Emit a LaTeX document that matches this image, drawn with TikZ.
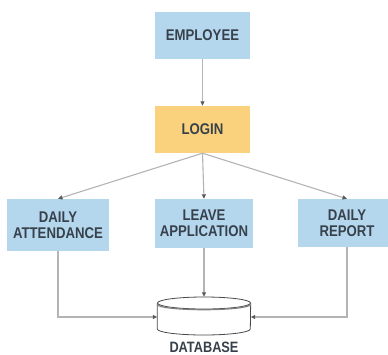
\documentclass[tikz,border=0pt]{standalone}
\usepackage{fontspec}
\setmainfont{Liberation Sans}[FakeStretch=0.85]
\usetikzlibrary{arrows.meta}
\definecolor{boxblue}{HTML}{B5D7EE}
\definecolor{boxgold}{HTML}{FAD27D}
\definecolor{txt}{HTML}{37414B}
\definecolor{conn}{HTML}{B4B4B4}
\definecolor{tipc}{HTML}{5A5A5A}
\definecolor{dbline}{HTML}{4A4A4A}
\begin{document}
\begin{tikzpicture}[x=1pt,y=-1pt,
  lbl/.style={font=\bfseries\fontsize{15.5}{16}\selectfont, text=txt, align=center, inner sep=0pt},
  bluebox/.style={lbl, fill=boxblue, draw=none},
  goldbox/.style={lbl, fill=boxgold, draw=none},
  conarrow/.style={draw=conn, line width=1.1pt, -{Triangle[length=4.5pt,width=4pt,color=tipc]}}
]
\useasboundingbox (0,0) rectangle (388,354);
\clip (0,0) rectangle (388,354);
\fill[white] (0,0) rectangle (388,354);
\node[bluebox, minimum width=95pt, minimum height=47pt] (emp) at (202.5,35.5) {EMPLOYEE};
\node[goldbox, minimum width=95pt, minimum height=47pt] (login) at (202.5,129.5) {LOGIN};
\node[bluebox, minimum width=102pt, minimum height=52pt] (att) at (58,225) {DAILY\\ATTENDANCE};
\node[bluebox, minimum width=98pt, minimum height=49pt] (leave) at (204,223.5) {LEAVE\\APPLICATION};
\node[bluebox, minimum width=98pt, minimum height=48pt] (rep) at (347,223) {DAILY\\REPORT};
\node[minimum width=93pt, minimum height=38pt, inner sep=0pt] (db) at (204,316) {};
\node[lbl, font=\bfseries\fontsize{15}{16}\selectfont] (dblabel) at (204,347) {DATABASE};
% cylinder
\filldraw[fill=white, draw=dbline, line width=0.8pt]
  (db.west |- 0,303) -- (db.west |- 0,329)
  arc[start angle=180, end angle=360, x radius=46.5pt, y radius=6pt]
  -- (db.east |- 0,303);
\filldraw[fill=white, draw=dbline, line width=0.8pt] (204,303) ellipse [x radius=46.5pt, y radius=6pt];
\draw[draw=dbline!70, line width=1.2pt] (db.west |- 0,304.5)
  arc[start angle=180, end angle=360, x radius=46.5pt, y radius=5.2pt];
% connectors
\draw[conarrow] (emp.south) -- (login.north);
\draw[conarrow] (login.south) -- (att.north);
\draw[conarrow] (login.south) -- (leave.north);
\draw[conarrow] (login.south) -- (rep.north);
\draw[conarrow] (leave.south) -- (db.north);
\draw[conarrow] (att.south) |- (db.west |- 0,317);
\draw[conarrow] (rep.south) |- (db.east |- 0,317);
\end{tikzpicture}
\end{document}
